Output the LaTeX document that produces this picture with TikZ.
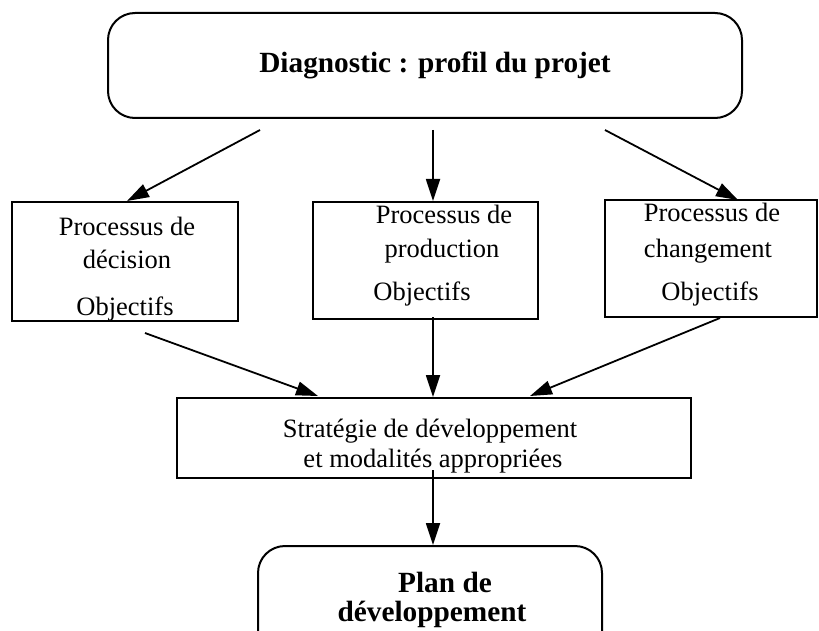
\documentclass[tikz,border=0pt]{standalone}
\usepackage{fontspec}
\setmainfont{Liberation Serif}
\usetikzlibrary{arrows.meta}
\begin{document}
\begin{tikzpicture}[x=1pt,y=-1pt,
  boxline/.style={draw=black,line width=2pt,inner sep=0pt},
  rbox/.style={boxline,rounded corners=27pt},
  txt/.style={anchor=base,inner sep=0pt,font=\fontsize{26.5}{30}\selectfont},
  btxt/.style={anchor=base,inner sep=0pt,font=\fontsize{29.3}{32}\selectfont\bfseries},
  arr/.style={line width=1.8pt,-{Triangle[length=22pt,width=14pt]}}]
\useasboundingbox (0,0) rectangle (819,631);
\clip (0,0) rectangle (819,631);
% boxes
\node[rbox,minimum width=634pt,minimum height=105pt] (top) at (425,65.5) {};
\node[boxline,minimum width=226pt,minimum height=119pt] (dec) at (125,261.5) {};
\node[boxline,minimum width=225pt,minimum height=117pt] (prod) at (425.5,260.5) {};
\node[boxline,minimum width=212pt,minimum height=117pt] (chg) at (711,258.5) {};
\node[boxline,minimum width=514pt,minimum height=80pt] (strat) at (434,438) {};
\node[rbox,minimum width=344pt,minimum height=134pt] (plan) at (430,613) {};
% texts
\node[btxt] (ttop) at (435,73) {Diagnostic : profil du projet};
\node[txt] (d1) at (127,235) {Processus de};
\node[txt] (d2) at (127,268) {décision};
\node[txt] (d3) at (125,315) {Objectifs};
\node[txt] (p1) at (444,223) {Processus de};
\node[txt] (p2) at (442,258) {production};
\node[txt] (p3) at (422,300) {Objectifs};
\node[txt] (c1) at (712,222) {Processus de};
\node[txt] (c2) at (708,257) {changement};
\node[txt] (c3) at (710,300) {Objectifs};
\node[txt] (s1) at (430,437) {Stratégie de développement};
\node[txt] (s2) at (433,467) {et modalités appropriées};
\node[btxt] (b1) at (445,592) {Plan de};
\node[btxt] (b2) at (432,621) {développement};
% connector ends
\coordinate (a1s) at (260,130); \coordinate (a1e) at (127,201);
\coordinate (a2s) at (433,130); \coordinate (a2e) at (433,201);
\coordinate (a3s) at (605,130); \coordinate (a3e) at (738,200);
\coordinate (a4s) at (145,333); \coordinate (a4e) at (318,396);
\coordinate (a5s) at (433,317); \coordinate (a5e) at (433,397);
\coordinate (a6s) at (720,318); \coordinate (a6e) at (530,396);
\coordinate (a7s) at (433,470); \coordinate (a7e) at (433,545);
\draw[arr] (a1s) -- (a1e);
\draw[arr] (a2s) -- (a2e);
\draw[arr] (a3s) -- (a3e);
\draw[arr] (a4s) -- (a4e);
\draw[arr] (a5s) -- (a5e);
\draw[arr] (a6s) -- (a6e);
\draw[arr] (a7s) -- (a7e);
\end{tikzpicture}
\end{document}
